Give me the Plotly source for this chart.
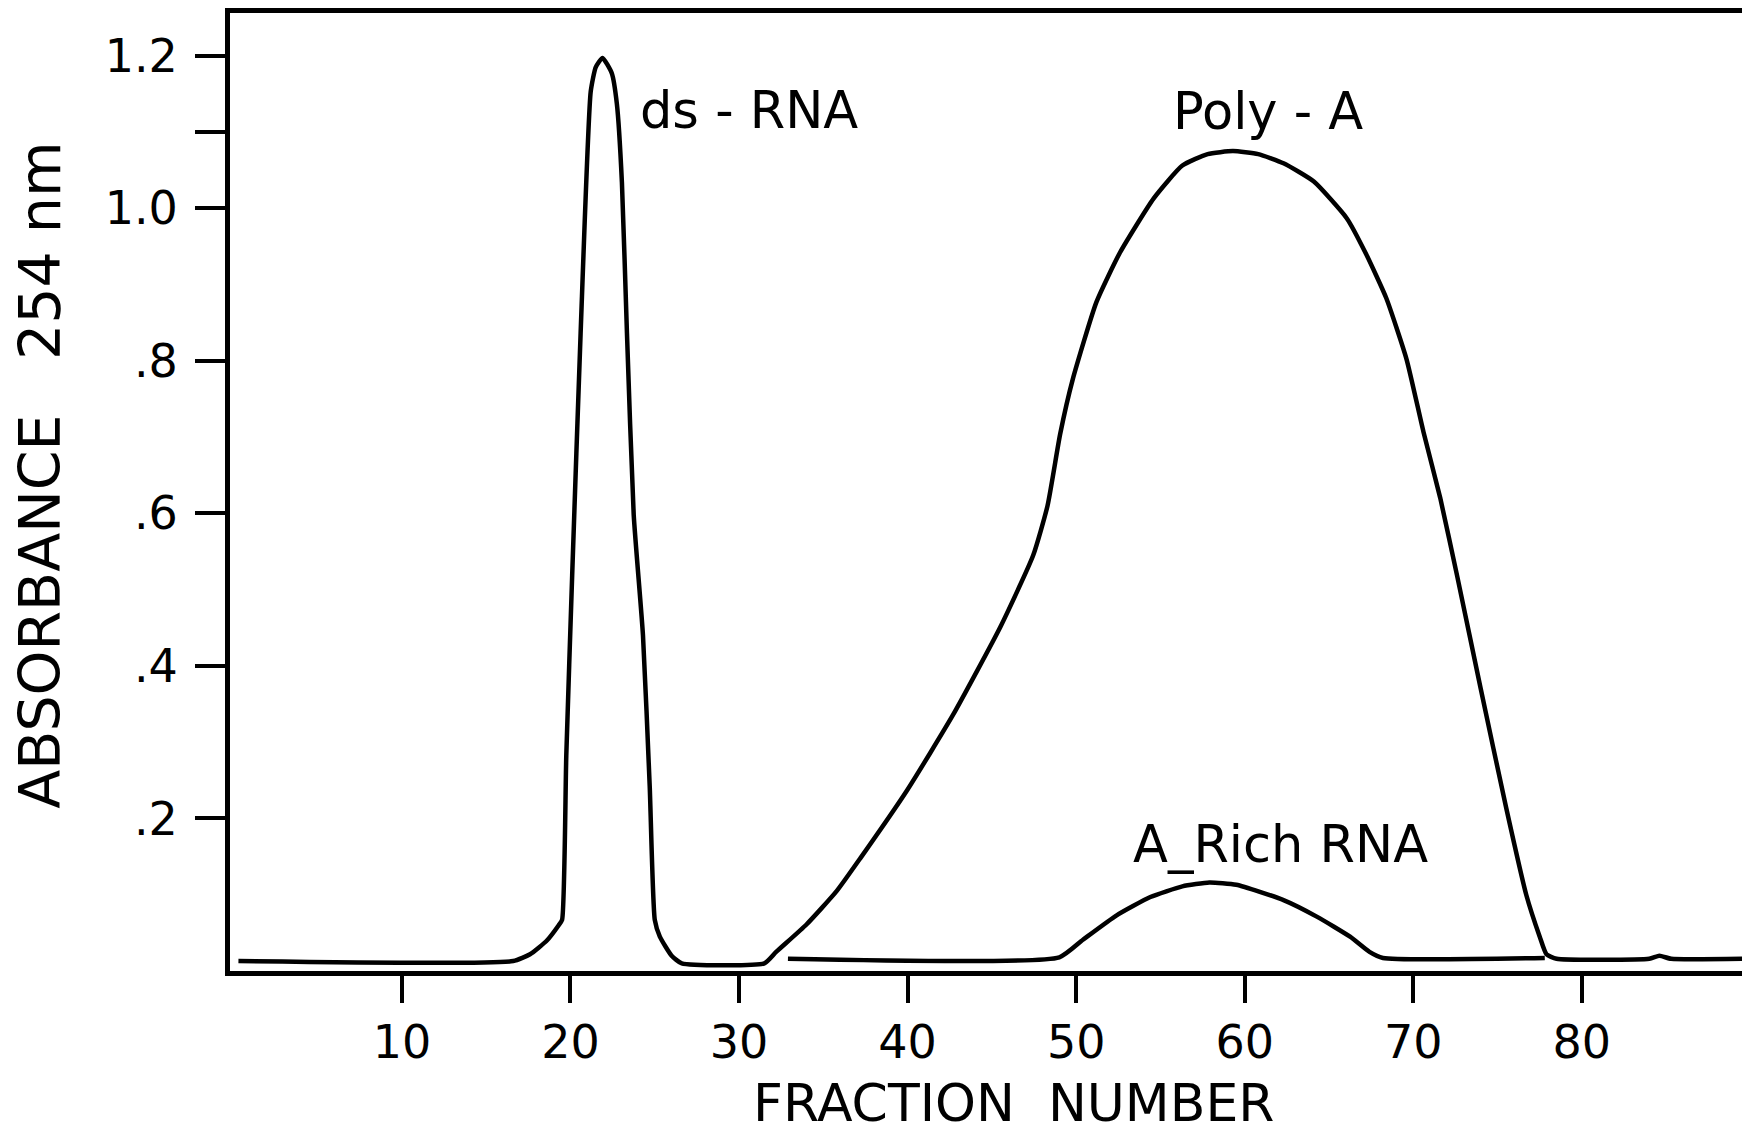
import plotly.graph_objects as go

# ---- data ----
# main trace: baseline -> ds-RNA peak -> baseline -> Poly-A peak -> baseline
main_x = [0.3, 16.6, 17.6, 18.6, 19.3, 19.5, 19.75, 20.1, 20.6, 21.2, 21.5, 21.9,
          22.45, 22.75, 23.05, 23.35, 23.75, 24.3, 24.7, 25.0, 25.3, 26.0, 26.6,
          31.5, 32.2, 34.0, 35.8, 37.2, 40.0, 42.7, 45.5, 47.45, 48.3, 49.05, 49.8,
          51.2, 52.6, 54.6, 56.3, 57.8, 59.3, 60.8, 62.3, 64.1, 66.05, 67.2, 68.4,
          69.6, 70.6, 71.6, 72.6, 74.0, 75.5, 76.7, 77.5, 77.9, 78.5, 84.0, 84.6,
          85.3, 89.5]
main_y = [0.013, 0.013, 0.022, 0.040, 0.060, 0.067, 0.282, 0.519, 0.836, 1.153, 1.185, 1.197,
          1.177, 1.137, 1.034, 0.836, 0.598, 0.440, 0.242, 0.067, 0.045, 0.020, 0.010,
          0.010, 0.025, 0.061, 0.105, 0.148, 0.238, 0.336, 0.451, 0.545, 0.610, 0.704, 0.776,
          0.877, 0.942, 1.013, 1.056, 1.071, 1.075, 1.071, 1.059, 1.035, 0.987, 0.940, 0.882,
          0.802, 0.707, 0.620, 0.518, 0.370, 0.215, 0.100, 0.045, 0.022, 0.016, 0.016, 0.020,
          0.016, 0.016]

# second trace: baseline -> A-rich RNA bump -> baseline
arich_x = [32.9, 49.0, 50.4, 52.4, 54.4, 56.3, 57.9, 59.5, 62.3, 64.3, 66.25, 67.4, 68.2, 77.8]
arich_y = [0.016, 0.018, 0.041, 0.073, 0.097, 0.111, 0.116, 0.113, 0.093, 0.071, 0.045, 0.025, 0.017, 0.017]

x_ticks = [10, 20, 30, 40, 50, 60, 70, 80]
x_tick_labels = ["10", "20", "30", "40", "50", "60", "70", "80"]
y_ticks = [0.2, 0.4, 0.6, 0.8, 1.0, 1.1, 1.2]
y_tick_labels = [".2", ".4", ".6", ".8", "1.0", "", "1.2"]

peak_labels = ["ds - RNA", "Poly - A", "A_Rich RNA"]
peak_label_x = [24.0, 61.4, 62.1]
peak_label_y = [1.128, 1.127, 0.166]

FONT = "DejaVu Sans"

fig = go.Figure()
fig.add_trace(go.Scatter(x=main_x, y=main_y, mode="lines",
                         line=dict(color="black", width=4.5, shape="spline", smoothing=0.5),
                         showlegend=False))
fig.add_trace(go.Scatter(x=arich_x, y=arich_y, mode="lines",
                         line=dict(color="black", width=4.5, shape="spline", smoothing=0.5),
                         showlegend=False))

annotations = [
    dict(x=peak_label_x[0], y=peak_label_y[0], xref="x", yref="y", text=peak_labels[0],
         showarrow=False, xanchor="left", yanchor="middle",
         font=dict(family=FONT, size=51, color="black")),
    dict(x=peak_label_x[1], y=peak_label_y[1], xref="x", yref="y", text=peak_labels[1],
         showarrow=False, xanchor="center", yanchor="middle",
         font=dict(family=FONT, size=51, color="black")),
    dict(x=peak_label_x[2], y=peak_label_y[2], xref="x", yref="y", text=peak_labels[2],
         showarrow=False, xanchor="center", yanchor="middle",
         font=dict(family=FONT, size=51, color="black")),
    dict(x=0.518, y=-0.138, xref="paper", yref="paper",
         text="FRACTION\u00a0\u00a0NUMBER", showarrow=False,
         xanchor="center", yanchor="middle",
         font=dict(family=FONT, size=52, color="black")),
    dict(x=-0.1257, y=0.518, xref="paper", yref="paper",
         text="ABSORBANCE\u00a0\u00a0\u00a0254 nm", showarrow=False, textangle=-90,
         xanchor="center", yanchor="middle",
         font=dict(family=FONT, size=57, color="black")),
]

fig.update_layout(
    width=1742, height=1135,
    margin=dict(l=230, r=0, t=13, b=164, pad=0),
    paper_bgcolor="white", plot_bgcolor="white",
    annotations=annotations,
    xaxis=dict(range=[-0.2, 89.5], tickvals=x_ticks, ticktext=x_tick_labels,
               showgrid=False, zeroline=False, showline=True, linecolor="black",
               linewidth=5, mirror=True, ticks="outside", ticklen=27, tickwidth=4,
               tickcolor="black", ticklabelstandoff=0,
               tickfont=dict(family=FONT, size=46, color="black")),
    yaxis=dict(range=[0, 1.256], tickvals=y_ticks, ticktext=y_tick_labels,
               showgrid=False, zeroline=False, showline=True, linecolor="black",
               linewidth=5, mirror=False, ticks="outside", ticklen=30, tickwidth=4,
               tickcolor="black", ticklabelstandoff=8,
               tickfont=dict(family=FONT, size=46, color="black")),
)

fig.write_html("out.html")
